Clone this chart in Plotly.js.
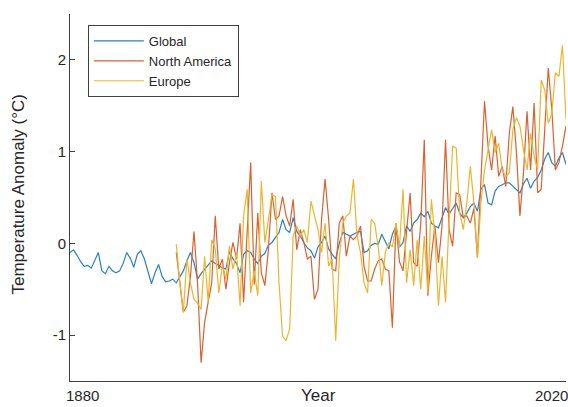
<!DOCTYPE html>
<html>
<head>
<meta charset="utf-8">
<script src="https://cdn.plot.ly/plotly-3.0.1.min.js"></script>
<style>html,body{margin:0;padding:0;background:#fff;}#chart{width:568px;height:407px;}</style>
</head>
<body>
<div id="chart"></div>
<script>
// ---- data (annual temperature anomalies, °C) ----
const globalStartYear = 1880;
const regionStartYear = 1910;

const globalAnomaly = [
  -0.10, -0.07, -0.13, -0.20, -0.25, -0.24, -0.27, -0.18, -0.10, -0.30,
  -0.33, -0.25, -0.30, -0.32, -0.30, -0.22, -0.10, -0.16, -0.26, -0.12,
  -0.08, -0.17, -0.30, -0.44, -0.32, -0.23, -0.36, -0.42, -0.41, -0.39,
  -0.43, -0.36, -0.30, -0.19, -0.10, -0.21, -0.39, -0.33, -0.28, -0.24,
  -0.19, -0.22, -0.24, -0.27, -0.28, -0.09, -0.17, -0.22, -0.32, -0.12,
  -0.08, -0.10, -0.17, -0.22, -0.14, -0.11, -0.02, 0.01, 0.06, 0.12,
  0.26, 0.15, 0.12, 0.28, 0.13, 0.08, 0.01, -0.05, -0.08, -0.16,
  -0.04, 0.01, 0.08, -0.06, -0.12, -0.17, 0.00, 0.12, 0.10, 0.08,
  0.10, 0.12, 0.13, -0.10, -0.08, -0.02, 0.00, -0.01, 0.10, 0.02,
  -0.06, 0.10, 0.19, -0.04, 0.01, 0.19, 0.13, 0.22, 0.26, 0.33,
  0.29, 0.35, 0.22, 0.19, 0.17, 0.28, 0.39, 0.32, 0.38, 0.44,
  0.33, 0.28, 0.33, 0.40, 0.44, 0.35, 0.59, 0.64, 0.44, 0.42,
  0.57, 0.62, 0.64, 0.66, 0.66, 0.62, 0.58, 0.55, 0.65, 0.71,
  0.60, 0.68, 0.72, 0.80, 0.92, 0.99, 0.88, 0.84, 0.93, 0.99,
  0.86
];

const northAmericaAnomaly = [
  -0.10, -0.40, -0.75, -0.68, -0.36, 0.13, -0.43, -1.30, -0.86, -0.64,
  -0.43, 0.30, -0.28, -0.17, -0.50, -0.21, 0.01, -0.17, 0.22, -0.64,
  0.12, 0.88, -0.45, 0.33, -0.32, -0.46, -0.07, 0.55, 0.26, 0.30,
  0.51, 0.30, 0.19, 0.48, -0.07, 0.15, 0.01, -0.17, -0.14, -0.61,
  -0.50, 0.26, 0.70, 0.26, -0.28, -0.30, 0.22, 0.30, -0.14, 0.08,
  0.04, 0.08, 0.19, -0.25, -0.41, -0.41, -0.28, -0.19, -0.17, -0.28,
  -0.30, -0.92, 0.22, -0.20, -0.30, 0.17, 0.55, -0.21, -0.25, 0.22,
  1.13, -0.57, -0.14, 0.19, -0.21, 0.19, 1.13, 0.15, -0.03, 0.55,
  0.53, 0.28, 0.30, 0.22, 0.38, -0.15, 0.75, 1.55, 1.06, 0.80,
  1.17, 0.73, 0.84, 0.62, 1.20, 1.49, 1.00, 0.30, 0.77, 1.44,
  0.80, 1.53, 0.55, 0.59, 1.24, 1.91, 1.46, 0.80, 0.88, 1.06,
  1.28
];

const europeAnomaly = [
  -0.01, -0.43, -0.75, -0.17, -0.43, -0.61, -0.65, -0.72, -0.14, -0.64,
  0.04, -0.06, -0.54, -0.24, -0.39, -0.03, -0.28, -0.10, -0.68, 0.30,
  0.59, -0.54, -0.30, -0.57, 0.68, 0.01, 0.26, 0.53, 0.51, -0.43,
  -1.01, -1.06, -0.93, 0.08, 0.19, 0.08, 0.15, 0.01, 0.46, 0.30,
  0.15, -0.10, 0.22, -0.25, -0.17, -1.06, -0.17, 0.22, 0.30, 0.33,
  0.70, 0.08, -0.10, -0.43, -0.54, 0.26, 0.22, -0.04, -0.46, -0.10,
  0.01, -0.04, 0.22, -0.04, 0.59, -0.43, -0.07, -0.46, 0.04, -0.50,
  0.08, -0.54, 0.48, 0.08, -0.68, -0.14, -0.64, 0.26, 1.06, 1.04,
  0.33, 0.15, 0.44, 0.84, 0.45, -0.16, 0.45, 0.80, 1.02, 1.24,
  0.99, 1.09, 0.80, 0.73, 0.77, 1.24, 1.37, 1.28, 1.02, 0.80,
  1.20, 0.95, 0.80, 1.78, 1.67, 1.31, 1.42, 1.86, 1.82, 2.16,
  1.35
];

const seriesNames = ['Global', 'North America', 'Europe'];
const xTickValues = [1880, 2020];
const xTickLabels = ['1880', '2020'];
const yTickValues = [-1, 0, 1, 2];
const yTickLabels = ['-1', '0', '1', '2'];
const xTitle = 'Year';
const yTitle = 'Temperature Anomaly (°C)';

function yearsFrom(start, n) {
  const out = [];
  for (let i = 0; i < n; i++) out.push(start + i);
  return out;
}

const FONT = '"Liberation Sans", Arial, Helvetica, sans-serif';
const TXT = '#262626';
const AX = '#404040';

const traces = [
  {x: yearsFrom(globalStartYear, globalAnomaly.length), y: globalAnomaly, name: seriesNames[0],
   type: 'scatter', mode: 'lines', line: {color: '#2A82C4', width: 1.2}},
  {x: yearsFrom(regionStartYear, northAmericaAnomaly.length), y: northAmericaAnomaly, name: seriesNames[1],
   type: 'scatter', mode: 'lines', line: {color: '#DA6130', width: 1.2}},
  {x: yearsFrom(regionStartYear, europeAnomaly.length), y: europeAnomaly, name: seriesNames[2],
   type: 'scatter', mode: 'lines', line: {color: '#EDB52E', width: 1.2}}
];

// x tick labels drawn as text at their axis values, nudged like the reference
const xLabelShift = [12, -15];
const xTickAnnotations = xTickValues.map((v, i) => ({
  text: xTickLabels[i], xref: 'x', yref: 'paper', x: v, y: 0, xanchor: 'center', yanchor: 'top',
  xshift: xLabelShift[i], yshift: -4, showarrow: false, font: {family: FONT, size: 15, color: TXT}
}));

const layout = {
  width: 568, height: 407,
  margin: {l: 70, r: 2, t: 14, b: 26, pad: 0},
  paper_bgcolor: '#ffffff', plot_bgcolor: '#ffffff',
  font: {family: FONT, size: 15, color: TXT},
  showlegend: true,
  legend: {x: 0.036, y: 0.97, xanchor: 'left', yanchor: 'top', bgcolor: '#ffffff',
           bordercolor: AX, borderwidth: 1, font: {family: FONT, size: 13, color: TXT},
           itemwidth: 50, tracegroupgap: 0},
  xaxis: {range: [1880, 2020], showgrid: false, zeroline: false, showline: true,
          linecolor: AX, linewidth: 1, ticks: '', showticklabels: false, fixedrange: true},
  yaxis: {range: [-1.5, 2.5], showgrid: false, zeroline: false, showline: true,
          linecolor: AX, linewidth: 1, ticks: 'inside', ticklen: 5, tickcolor: AX,
          tickvals: yTickValues, ticktext: yTickLabels, fixedrange: true,
          tickfont: {family: FONT, size: 15, color: TXT}},
  annotations: xTickAnnotations.concat([
    {text: xTitle, xref: 'paper', yref: 'paper', x: 0.5, y: 0, xanchor: 'center', yanchor: 'top',
     yshift: -3, showarrow: false, font: {family: FONT, size: 17, color: TXT}},
    {text: yTitle, xref: 'paper', yref: 'paper', x: 0, y: 0.5, xanchor: 'center', yanchor: 'middle',
     xshift: -52, yshift: 3, textangle: -90, showarrow: false, font: {family: FONT, size: 17, color: TXT}}
  ])
};

Plotly.newPlot('chart', traces, layout, {staticPlot: true, displayModeBar: false});
</script>
</body>
</html>
